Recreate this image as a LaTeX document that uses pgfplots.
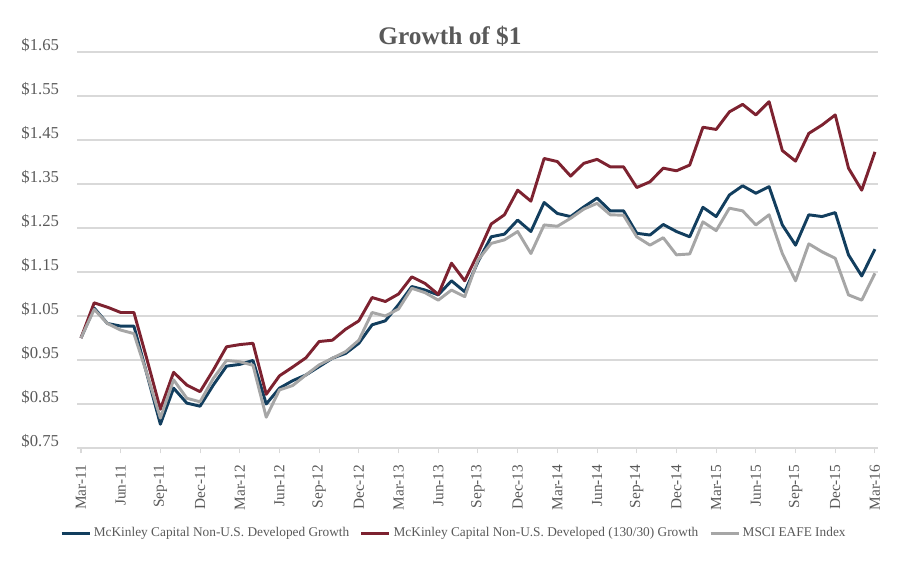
\documentclass[border=0pt]{standalone}
\usepackage{pgfplots}
\usepackage{pgfplotstable}
\usepackage{fontspec}
\setmainfont{Liberation Serif}
\pgfplotsset{compat=1.18}
\definecolor{mblue}{HTML}{123E5E}
\definecolor{mred}{HTML}{7D2230}
\definecolor{mgray}{HTML}{A6A6A6}
\definecolor{tgray}{HTML}{595959}
\definecolor{ggray}{HTML}{D9D9D9}
\pgfplotstableread{
i blue red gray
0 1.000 1.000 1.000
1 1.068 1.080 1.065
2 1.033 1.070 1.033
3 1.027 1.058 1.018
4 1.027 1.058 1.010
5 0.916 0.950 0.917
6 0.804 0.838 0.818
7 0.886 0.922 0.905
8 0.852 0.893 0.863
9 0.845 0.878 0.855
10 0.893 0.927 0.908
11 0.936 0.980 0.949
12 0.940 0.985 0.946
13 0.949 0.988 0.938
14 0.850 0.872 0.820
15 0.886 0.914 0.882
16 0.903 0.934 0.892
17 0.916 0.955 0.916
18 0.935 0.992 0.939
19 0.954 0.995 0.954
20 0.965 1.020 0.969
21 0.988 1.039 0.995
22 1.030 1.092 1.058
23 1.039 1.083 1.050
24 1.076 1.100 1.066
25 1.117 1.139 1.113
26 1.109 1.124 1.103
27 1.098 1.099 1.086
28 1.130 1.170 1.109
29 1.105 1.130 1.094
30 1.173 1.192 1.177
31 1.230 1.259 1.215
32 1.236 1.280 1.223
33 1.268 1.336 1.242
34 1.242 1.311 1.192
35 1.308 1.408 1.257
36 1.283 1.401 1.254
37 1.276 1.368 1.272
38 1.298 1.397 1.293
39 1.318 1.406 1.306
40 1.289 1.389 1.280
41 1.289 1.389 1.279
42 1.238 1.342 1.230
43 1.234 1.355 1.211
44 1.258 1.386 1.228
45 1.242 1.380 1.189
46 1.230 1.393 1.191
47 1.297 1.479 1.264
48 1.276 1.474 1.244
49 1.325 1.514 1.295
50 1.346 1.531 1.289
51 1.329 1.507 1.257
52 1.344 1.537 1.280
53 1.257 1.426 1.192
54 1.211 1.402 1.130
55 1.280 1.465 1.214
56 1.276 1.484 1.196
57 1.285 1.507 1.181
58 1.189 1.386 1.098
59 1.141 1.336 1.086
60 1.202 1.423 1.147
}\datatable
\begin{document}
\begin{tikzpicture}
\useasboundingbox (0,0) rectangle (675pt,435pt);
\begin{axis}[
  at={(57.75pt,99pt)}, anchor=south west,
  scale only axis, width=600.75pt, height=297pt,
  xmin=-0.3, xmax=60.23, ymin=0.75, ymax=1.65,
  axis x line*=bottom, axis y line*=left,
  axis line style={-},
  x axis line style={ggray, line width=1pt},
  y axis line style={draw=none},
  ytick={0.75,0.85,0.95,1.05,1.15,1.25,1.35,1.45,1.55,1.65},
  yticklabels={\$0.75,\$0.85,\$0.95,\$1.05,\$1.15,\$1.25,\$1.35,\$1.45,\$1.55,\$1.65},
  ytick style={draw=none},
  ymajorgrids, grid style={ggray, line width=1pt},
  xtick={0,3,...,60},
  xticklabels={Mar-11,Jun-11,Sep-11,Dec-11,Mar-12,Jun-12,Sep-12,Dec-12,Mar-13,Jun-13,Sep-13,Dec-13,Mar-14,Jun-14,Sep-14,Dec-14,Mar-15,Jun-15,Sep-15,Dec-15,Mar-16},
  xtick style={ggray, line width=0.8pt},
  xtick align=outside, major tick length=4pt,
  xticklabel style={rotate=90, anchor=east, font=\fontsize{11.5}{13}\selectfont, text=tgray, xshift=-5pt},
  yticklabel style={anchor=east, font=\fontsize{12.5}{14}\selectfont, text=tgray, xshift=-10pt, yshift=5pt},
  /pgf/number format/assume math mode=true,
  legend columns=3,
  legend cell align=left,
  legend style={draw=none, fill=none, at={(0.471,-0.215)}, anchor=center,
    font=\fontsize{10}{12}\selectfont, text=tgray,
    /tikz/every even column/.append style={column sep=6pt}},
  legend image code/.code={\draw[#1, line width=2.2pt] (0pt,0pt) -- (21pt,0pt);},
  clip=false,
]
\addplot[mblue, line width=2.2pt, line join=round] table[x=i, y=blue] {\datatable};
\addlegendentry{McKinley Capital Non-U.S. Developed Growth}
\addplot[mred, line width=2.2pt, line join=round] table[x=i, y=red] {\datatable};
\addlegendentry{McKinley Capital Non-U.S. Developed (130/30) Growth}
\addplot[mgray, line width=2.2pt, line join=round] table[x=i, y=gray] {\datatable};
\addlegendentry{MSCI EAFE Index}
\end{axis}
\node[text=tgray, font=\fontsize{19}{22}\selectfont\bfseries] at (337.5pt,408pt) {Growth of \$1};
\end{tikzpicture}
\end{document}
